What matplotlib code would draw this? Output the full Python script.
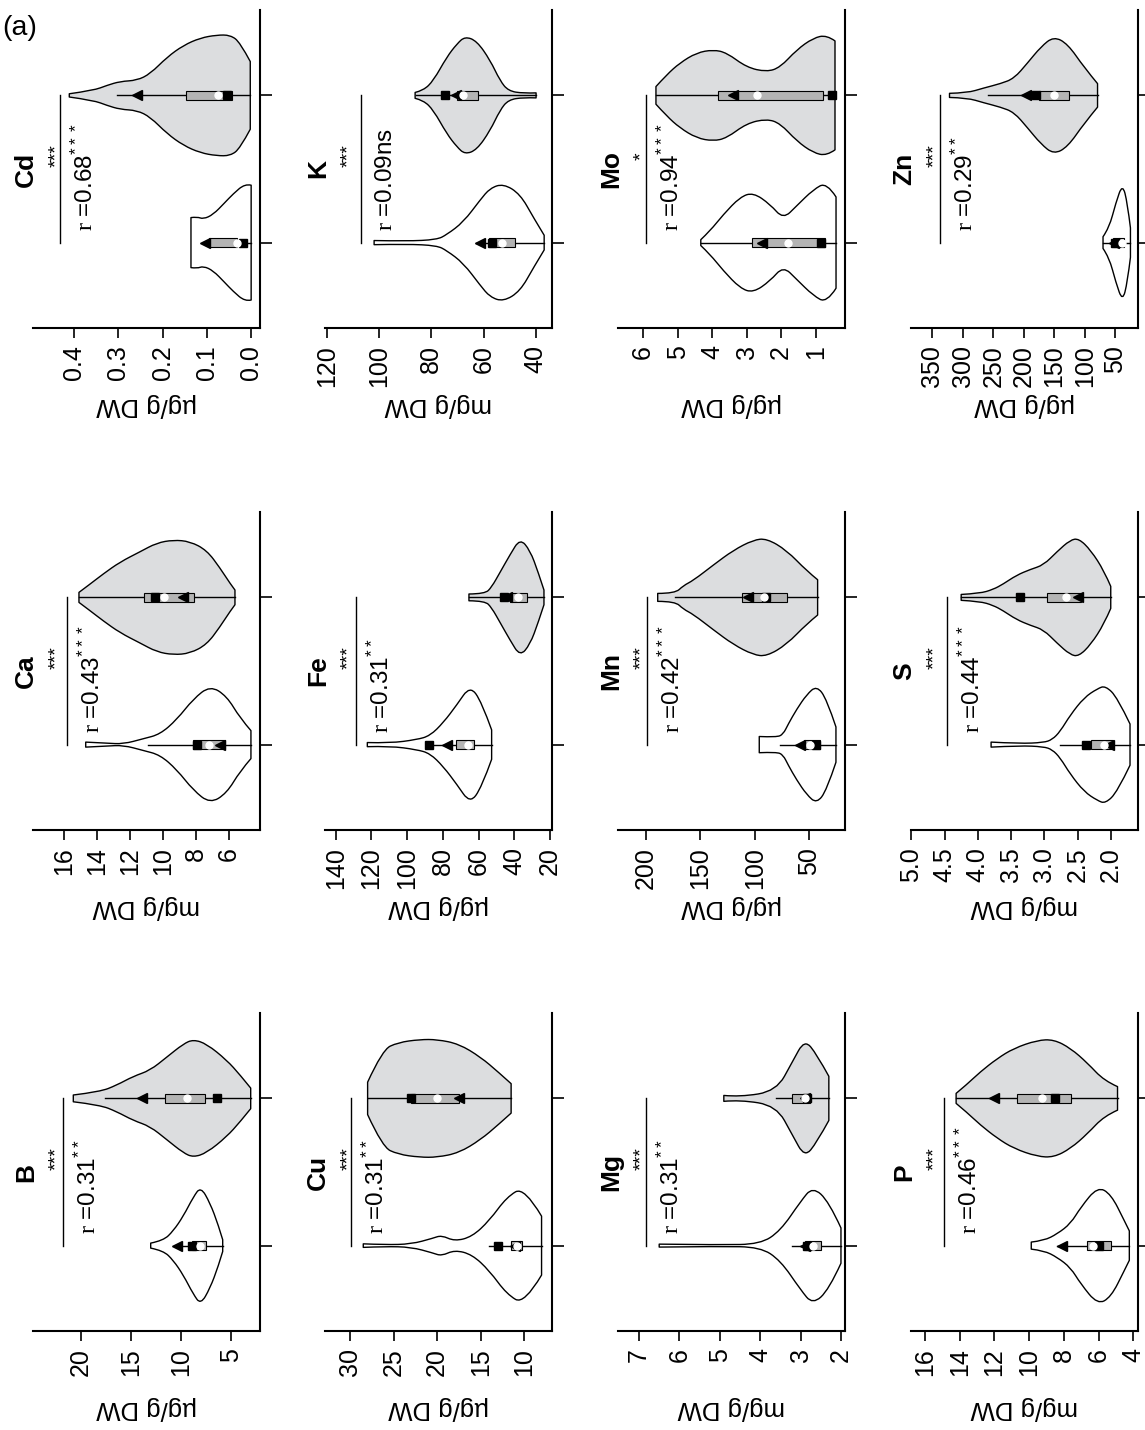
import numpy as np
import matplotlib
matplotlib.use('Agg')
import matplotlib.pyplot as plt
from matplotlib.patches import Rectangle, PathPatch
from matplotlib.path import Path
from matplotlib.transforms import blended_transform_factory, offset_copy

plt.rcParams['font.family'] = ['Liberation Sans', 'DejaVu Sans']
plt.rcParams['mathtext.fontset'] = 'custom'
plt.rcParams['mathtext.rm'] = 'Liberation Serif'
plt.rcParams['mathtext.sf'] = 'Liberation Sans'

GREY = '#dcdddf'      # violin fill, second group
BOXGREY = '#b4b4b4'   # inter-quartile box

# panel order, left to right and top to bottom on the page
panel_names = ['Cd', 'K', 'Mo', 'Zn', 'Ca', 'Fe', 'Mn', 'S', 'B', 'Cu', 'Mg', 'P']
units = ['\u00b5g', 'mg', '\u00b5g', '\u00b5g', 'mg', '\u00b5g', '\u00b5g', 'mg',
         '\u00b5g', '\u00b5g', 'mg', 'mg']
r_values = ['0.68', '0.09', '0.94', '0.29', '0.43', '0.31', '0.42', '0.44',
            '0.31', '0.31', '0.31', '0.46']
r_stars = ['***', 'ns', '***', '**', '***', '**', '***', '***', '**', '**', '**', '***']
group_stars = ['***', '***', '*', '***', '***', '***', '***', '***', '***', '***', '***', '***']

# violin outlines: values (high -> low) and half widths; stats are
# whisker hi, whisker lo, box hi, box lo, median, square, triangle
cd_lim, cd_ticks = (0.493, -0.020), [0.0, 0.1, 0.2, 0.3, 0.4]
cd_w_val = [0.136, 0.122, 0.108, 0.086, 0.060, 0.041, 0.014, 0.0]
cd_w_half = [0.17, 0.175, 0.16, 0.19, 0.27, 0.33, 0.40, 0.39]
cd_w_stats = [0.104, 0.0, 0.095, 0.032, 0.032, 0.018, 0.104]
cd_g_val = [0.411, 0.356, 0.326, 0.296, 0.258, 0.228, 0.190, 0.153, 0.115, 0.078, 0.047, 0.025, 0.002]
cd_g_half = [0.011, 0.034, 0.068, 0.095, 0.102, 0.147, 0.26, 0.34, 0.39, 0.41, 0.41, 0.36, 0.23]
cd_g_stats = [0.303, 0.002, 0.147, 0.043, 0.075, 0.054, 0.258]

k_lim, k_ticks = (120.7, 33.8), [40, 60, 80, 100, 120]
k_w_val = [101.9, 89.4, 77.9, 74.1, 67.7, 61.3, 57.5, 52.4, 46.0, 40.9, 36.8]
k_w_half = [0.014, 0.01, 0.02, 0.054, 0.14, 0.29, 0.37, 0.40, 0.33, 0.17, 0.05]
k_w_stats = [63.0, 36.8, 58.1, 47.9, 53.0, 56.9, 61.3]
k_g_val = [86.2, 83.0, 79.2, 74.1, 70.2, 67.1, 62.6, 57.5, 53.7, 50.5, 44.7, 39.9]
k_g_half = [0.02, 0.034, 0.10, 0.26, 0.35, 0.40, 0.37, 0.24, 0.10, 0.03, 0.014, 0.017]
k_g_stats = [86.0, 40.0, 70.2, 62.0, 67.7, 74.7, 70.6]

mo_lim, mo_ticks = (6.73, 0.15), [1, 2, 3, 4, 5, 6]
mo_w_val = [4.33, 4.06, 3.68, 3.19, 2.81, 2.32, 1.94, 1.55, 1.07, 0.68, 0.41]
mo_w_half = [0.02, 0.08, 0.19, 0.31, 0.34, 0.26, 0.16, 0.25, 0.36, 0.41, 0.31]
mo_w_stats = [4.33, 0.41, 2.84, 0.73, 1.79, 0.85, 2.57]
mo_g_val = [5.63, 5.32, 4.94, 4.45, 3.97, 3.58, 3.00, 2.42, 2.03, 1.55, 1.07, 0.68, 0.44]
mo_g_half = [0.06, 0.14, 0.22, 0.29, 0.31, 0.29, 0.19, 0.16, 0.19, 0.31, 0.39, 0.41, 0.37]
mo_g_stats = [5.63, 0.44, 3.82, 0.78, 2.71, 0.52, 3.39]

zn_lim, zn_ticks = (385.2, 12.6), [50, 100, 150, 200, 250, 300, 350]
zn_w_val = [70, 60, 49, 38, 30, 25]
zn_w_half = [0.04, 0.10, 0.27, 0.40, 0.27, 0.10]
zn_w_stats = [70, 25, 54, 35, 39.5, 50.5, 52]
zn_g_val = [322, 293, 266, 238, 216, 194, 172, 151, 128, 101, 79]
zn_g_half = [0.014, 0.017, 0.05, 0.08, 0.115, 0.22, 0.33, 0.40, 0.35, 0.19, 0.08]
zn_g_stats = [258, 79, 175, 126, 151, 180, 197]

ca_lim, ca_ticks = (17.9, 4.12), [6, 8, 10, 12, 14, 16]
ca_w_val = [14.70, 13.43, 12.42, 11.20, 10.19, 9.17, 8.17, 7.15, 6.14, 5.33, 4.67]
ca_w_half = [0.017, 0.01, 0.004, 0.04, 0.07, 0.17, 0.31, 0.40, 0.33, 0.18, 0.095]
ca_w_stats = [10.9, 4.67, 8.17, 6.24, 7.19, 7.96, 6.55]
ca_g_val = [15.11, 14.44, 13.63, 12.62, 11.40, 10.39, 9.38, 8.37, 7.35, 6.55, 5.94, 5.64]
ca_g_half = [0.034, 0.09, 0.16, 0.24, 0.31, 0.37, 0.39, 0.38, 0.32, 0.20, 0.095, 0.05]
ca_g_stats = [15.11, 5.64, 11.16, 8.12, 9.93, 10.49, 8.77]

fe_lim, fe_ticks = (146.0, 18.9), [20, 40, 60, 80, 100, 120, 140]
fe_w_val = [122.3, 109.6, 94.6, 87.2, 79.7, 72.2, 64.8, 58.3, 52.7]
fe_w_half = [0.014, 0.01, 0.034, 0.06, 0.15, 0.27, 0.40, 0.29, 0.10]
fe_w_stats = [87.6, 52.7, 72.8, 62.4, 65.8, 87.6, 77.9]
fe_g_val = [65.4, 56.4, 52.7, 48.0, 42.4, 36.8, 31.2, 26.6, 23.4]
fe_g_half = [0.023, 0.024, 0.07, 0.17, 0.29, 0.40, 0.32, 0.17, 0.05]
fe_g_stats = [65.4, 23.4, 42.4, 33.1, 37.8, 45.8, 44.0]

mn_lim, mn_ticks = (225.4, 17.3), [50, 100, 150, 200]
mn_w_val = [95.9, 80.0, 74.0, 69.3, 61.6, 52.4, 43.3, 34.1, 25.6]
mn_w_half = [0.055, 0.05, 0.07, 0.14, 0.24, 0.34, 0.40, 0.31, 0.12]
mn_w_stats = [77.0, 25.6, 54.6, 40.2, 49.4, 44.2, 58.6]
mn_g_val = [189.0, 173.1, 165.5, 156.4, 138.0, 119.7, 101.4, 89.1, 70.8, 52.4, 42.4]
mn_g_half = [0.027, 0.027, 0.08, 0.115, 0.22, 0.32, 0.39, 0.40, 0.32, 0.18, 0.12]
mn_g_stats = [173.0, 42.4, 111.5, 70.2, 92.0, 90.0, 106.0]

s_lim, s_ticks = (5.005, 1.59), [2.0, 2.5, 3.0, 3.5, 4.0, 4.5, 5.0]
s_w_val = [3.80, 3.37, 3.01, 2.88, 2.76, 2.61, 2.40, 2.20, 2.08, 1.90, 1.71]
s_w_half = [0.017, 0.007, 0.014, 0.034, 0.09, 0.20, 0.32, 0.38, 0.40, 0.32, 0.14]
s_w_stats = [2.76, 1.71, 2.29, 1.96, 2.10, 2.37, 2.03]
s_g_val = [4.25, 3.97, 3.77, 3.62, 3.42, 3.21, 3.01, 2.81, 2.61, 2.48, 2.30, 2.10, 2.00]
s_g_half = [0.02, 0.027, 0.054, 0.09, 0.15, 0.19, 0.22, 0.31, 0.39, 0.40, 0.32, 0.18, 0.075]
s_g_stats = [4.25, 2.00, 2.96, 2.44, 2.68, 3.37, 2.50]

b_lim, b_ticks = (24.8, 2.1), [5, 10, 15, 20]
b_w_val = [13.03, 11.77, 10.77, 9.77, 8.77, 8.03, 7.1, 6.27, 5.83]
b_w_half = [0.017, 0.034, 0.10, 0.20, 0.33, 0.40, 0.29, 0.14, 0.04]
b_w_stats = [10.6, 5.83, 8.93, 7.5, 8.1, 8.87, 10.43]
b_g_val = [20.77, 18.1, 16.43, 14.77, 13.1, 11.43, 9.77, 8.77, 7.43, 5.43, 4.1, 3.03]
b_g_half = [0.023, 0.045, 0.09, 0.15, 0.19, 0.28, 0.37, 0.40, 0.37, 0.26, 0.16, 0.07]
b_g_stats = [17.6, 3.03, 11.6, 7.6, 9.37, 6.43, 13.93]

cu_lim, cu_ticks = (32.9, 6.8), [10, 15, 20, 25, 30]
cu_w_val = [28.5, 26.0, 23.0, 20.5, 19.5, 18.0, 16.0, 14.0, 12.0, 10.0, 8.0]
cu_w_half = [0.012, 0.006, 0.01, 0.05, 0.07, 0.03, 0.06, 0.17, 0.33, 0.40, 0.20]
cu_w_stats = [14.0, 8.0, 11.5, 10.3, 10.8, 13.0, 11.0]
cu_g_val = [28.0, 26.3, 24.5, 22.0, 20.0, 17.5, 15.0, 13.0, 11.5]
cu_g_half = [0.11, 0.33, 0.38, 0.40, 0.40, 0.37, 0.28, 0.18, 0.10]
cu_g_stats = [28.0, 11.5, 23.0, 17.5, 20.0, 23.0, 17.5]

mg_lim, mg_ticks = (7.52, 1.90), [2, 3, 4, 5, 6, 7]
mg_w_val = [6.5, 5.0, 4.0, 3.5, 3.0, 2.7, 2.3, 2.0]
mg_w_half = [0.01, 0.005, 0.01, 0.10, 0.30, 0.40, 0.30, 0.12]
mg_w_stats = [3.2, 2.0, 2.9, 2.5, 2.7, 2.85, 2.9]
mg_g_val = [4.9, 4.5, 3.6, 3.2, 2.9, 2.6, 2.3]
mg_g_half = [0.02, 0.01, 0.05, 0.25, 0.40, 0.30, 0.15]
mg_g_stats = [3.6, 2.3, 3.2, 2.8, 2.9, 2.85, 2.9]

p_lim, p_ticks = (16.81, 3.73), [4, 6, 8, 10, 12, 14, 16]
p_w_val = [9.88, 9.15, 8.38, 7.61, 7.03, 6.06, 5.29, 4.52, 4.23]
p_w_half = [0.024, 0.034, 0.08, 0.15, 0.26, 0.40, 0.35, 0.17, 0.10]
p_w_stats = [8.38, 4.23, 6.68, 5.29, 6.35, 5.97, 8.09]
p_g_val = [14.21, 13.59, 12.82, 11.85, 10.89, 9.54, 8.58, 7.61, 6.64, 5.68, 4.91]
p_g_half = [0.034, 0.095, 0.18, 0.27, 0.34, 0.395, 0.40, 0.34, 0.24, 0.12, 0.08]
p_g_stats = [14.21, 4.91, 10.7, 7.57, 9.25, 8.53, 12.05]

panels = {
    'Cd': (cd_lim, cd_ticks, (cd_w_val, cd_w_half, cd_w_stats), (cd_g_val, cd_g_half, cd_g_stats)),
    'K': (k_lim, k_ticks, (k_w_val, k_w_half, k_w_stats), (k_g_val, k_g_half, k_g_stats)),
    'Mo': (mo_lim, mo_ticks, (mo_w_val, mo_w_half, mo_w_stats), (mo_g_val, mo_g_half, mo_g_stats)),
    'Zn': (zn_lim, zn_ticks, (zn_w_val, zn_w_half, zn_w_stats), (zn_g_val, zn_g_half, zn_g_stats)),
    'Ca': (ca_lim, ca_ticks, (ca_w_val, ca_w_half, ca_w_stats), (ca_g_val, ca_g_half, ca_g_stats)),
    'Fe': (fe_lim, fe_ticks, (fe_w_val, fe_w_half, fe_w_stats), (fe_g_val, fe_g_half, fe_g_stats)),
    'Mn': (mn_lim, mn_ticks, (mn_w_val, mn_w_half, mn_w_stats), (mn_g_val, mn_g_half, mn_g_stats)),
    'S': (s_lim, s_ticks, (s_w_val, s_w_half, s_w_stats), (s_g_val, s_g_half, s_g_stats)),
    'B': (b_lim, b_ticks, (b_w_val, b_w_half, b_w_stats), (b_g_val, b_g_half, b_g_stats)),
    'Cu': (cu_lim, cu_ticks, (cu_w_val, cu_w_half, cu_w_stats), (cu_g_val, cu_g_half, cu_g_stats)),
    'Mg': (mg_lim, mg_ticks, (mg_w_val, mg_w_half, mg_w_stats), (mg_g_val, mg_g_half, mg_g_stats)),
    'P': (p_lim, p_ticks, (p_w_val, p_w_half, p_w_stats), (p_g_val, p_g_half, p_g_stats)),
}

W, H = 1145, 1430
fig = plt.figure(figsize=(W / 100, H / 100), dpi=100)

col_left = [33, 325, 618, 911]
row_top = [10, 512, 1013]
aw, ah = 227, 318


def rounded_edge(pts):
    # quadratic segments with the outline points as control points
    n = len(pts)
    if n == 2:
        return [pts[1]], [Path.LINETO]
    verts, codes = [], []
    for k in range(1, n - 1):
        if k < n - 2:
            end = ((pts[k][0] + pts[k + 1][0]) / 2, (pts[k][1] + pts[k + 1][1]) / 2)
        else:
            end = pts[n - 1]
        verts += [pts[k], end]
        codes += [Path.CURVE3, Path.CURVE3]
    return verts, codes


def draw_violin(ax, pos, data, face):
    vals, half, stats = data
    top = [(v, pos + w) for v, w in zip(vals, half)]
    bottom = [(v, pos - w) for v, w in zip(vals, half)][::-1]
    verts, codes = [top[0]], [Path.MOVETO]
    ev, ec = rounded_edge(top)
    verts += ev
    codes += ec
    verts.append(bottom[0])
    codes.append(Path.LINETO)
    ev, ec = rounded_edge(bottom)
    verts += ev
    codes += ec
    verts.append(top[0])
    codes.append(Path.CLOSEPOLY)
    ax.add_patch(PathPatch(Path(verts, codes), facecolor=face, edgecolor='black',
                           lw=1.0, joinstyle='round', zorder=2))
    whi, wlo, bhi, blo, med, sq, tri = stats
    ax.plot([whi, wlo], [pos, pos], color='black', lw=1.0, zorder=3)
    ax.add_patch(Rectangle((blo, pos - 0.03), bhi - blo, 0.06, facecolor=BOXGREY,
                           edgecolor='black', lw=0.8, zorder=4))
    ax.plot(sq, pos, 's', color='black', ms=6, zorder=5)
    ax.plot(tri, pos, '<', color='black', ms=7, zorder=5)
    ax.plot(med, pos, 'o', mfc='white', mec='white', ms=5, zorder=6)


for i, name in enumerate(panel_names):
    r, c = divmod(i, 4)
    ax = fig.add_axes([col_left[c] / W, 1 - (row_top[r] + ah) / H, aw / W, ah / H])
    lim, ticks, white, grey = panels[name]
    ax.set_xlim(lim)
    ax.set_ylim(0.42, 2.58)
    for side in ['top', 'left']:
        ax.spines[side].set_visible(False)
    for side in ['bottom', 'right']:
        ax.spines[side].set_linewidth(1.5)

    ax.set_xticks(ticks)
    dec = 1 if name in ('Cd', 'S') else 0
    ax.set_xticklabels([f'{t:.{dec}f}' for t in ticks])
    ax.tick_params(axis='x', direction='out', length=7.5, width=1.2, labelsize=18,
                   labelrotation=90, pad=5)
    ax.yaxis.tick_right()
    ax.set_yticks([1, 2])
    ax.set_yticklabels([])
    ax.tick_params(axis='y', direction='out', length=8.5, width=1.2)

    draw_violin(ax, 1, white, 'white')
    draw_violin(ax, 2, grey, GREY)

    top = max(max(white[0]), max(grey[0]))
    bar = 1.05 * top
    ax.plot([bar, bar], [1, 2], color='black', lw=1.0)

    tr = blended_transform_factory(ax.transAxes, ax.transData)
    ax.text(-0.031, 1.5, name, transform=tr, rotation=90, ha='center', va='center',
            fontsize=19, fontweight='bold')
    ax.text(0.106, 1.59, group_stars[i], transform=tr, rotation=90, ha='center',
            va='center', fontsize=14)
    if r_stars[i] == 'ns':
        label = r'$\mathrm{r}$ =' + r_values[i] + 'ns'
    else:
        label = r'$\mathrm{r}$ =' + r_values[i] + r'$^{\mathsf{' + r_stars[i] + '}}$'
    ax.text(bar, 1.08, label, transform=offset_copy(ax.transData, fig=fig, x=25, units='dots'),
            rotation=90, ha='center', va='bottom', fontsize=17.5)
    ax.text(0.5, -77 / ah, units[i] + '/g DW', transform=ax.transAxes, rotation=180,
            ha='center', va='center', fontsize=18.5)

fig.text(2 / W, 1 - 28 / H, '(a)', fontsize=20.5, ha='left', va='center')

fig.savefig('out.png', dpi=100)
